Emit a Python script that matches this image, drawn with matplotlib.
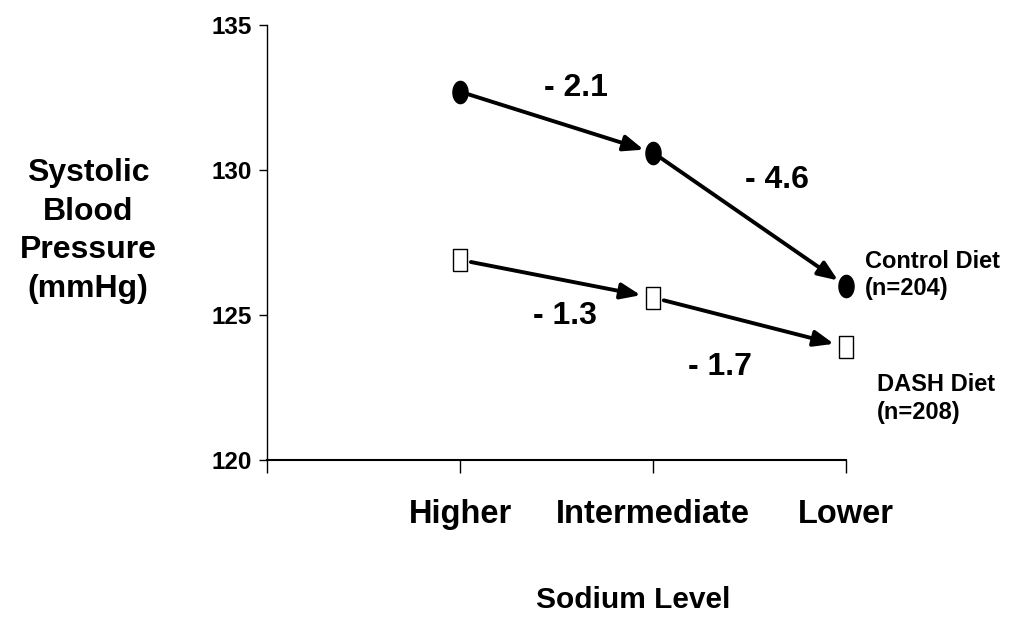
import matplotlib
matplotlib.use("Agg")
import matplotlib.pyplot as plt
import numpy as np

# values
sodium_levels = ["Higher", "Intermediate", "Lower"]
control_sbp = [132.7, 130.6, 126.0]
dash_sbp = [126.9, 125.6, 123.9]
control_changes = ["- 2.1", "- 4.6"]
dash_changes = ["- 1.3", "- 1.7"]
y_ticks = [120, 125, 130, 135]

BOLD = ["Liberation Sans", "DejaVu Sans"]

fig = plt.figure(figsize=(10.23, 6.29), dpi=100)
ax = fig.add_axes([0.261, 0.2687, 0.566, 0.6916])

x = np.arange(1, len(sodium_levels) + 1)

# tall ellipse / tall hollow box markers, as in the slide
t = np.linspace(0, 2 * np.pi, 60)
ellipse = list(zip(0.68 * np.cos(t), np.sin(t)))
box = [(-0.32, -0.5), (0.32, -0.5), (0.32, 0.5), (-0.32, 0.5), (-0.32, -0.5)]

ax.plot(x, control_sbp, linestyle="none", marker=ellipse, markersize=16,
        color="black", zorder=4, clip_on=False)
ax.plot(x, dash_sbp, linestyle="none", marker=box, markersize=16,
        markerfacecolor="white", markeredgecolor="black", markeredgewidth=1,
        zorder=4, clip_on=False)

arrow_kw = dict(arrowstyle="-|>,head_length=1.0,head_width=0.4", lw=2.8,
                color="black", mutation_scale=12)

for i in range(len(x) - 1):
    ax.annotate("", xy=(x[i + 1], control_sbp[i + 1]),
                xytext=(x[i], control_sbp[i]),
                arrowprops=dict(shrinkA=5, shrinkB=7, **arrow_kw), zorder=3)
    ax.annotate("", xy=(x[i + 1], dash_sbp[i + 1]),
                xytext=(x[i], dash_sbp[i]),
                arrowprops=dict(shrinkA=8, shrinkB=9, **arrow_kw), zorder=3)

# change labels next to each segment
control_label_pos = [(1.600, 132.83), (2.642, 129.66)]
dash_label_pos = [(1.544, 124.97), (2.347, 123.21)]
for txt, (lx, ly) in zip(control_changes, control_label_pos):
    ax.text(lx, ly, txt, ha="center", va="center", fontsize=23,
            fontweight="bold", family=BOLD)
for txt, (lx, ly) in zip(dash_changes, dash_label_pos):
    ax.text(lx, ly, txt, ha="center", va="center", fontsize=23,
            fontweight="bold", family=BOLD)

ax.text(3.097, 126.38, "Control Diet\n(n=204)", ha="left", va="center",
        fontsize=17, fontweight="bold", family=BOLD, linespacing=1.2)
ax.text(3.159, 122.12, "DASH Diet\n(n=208)", ha="left", va="center",
        fontsize=17, fontweight="bold", family=BOLD, linespacing=1.25)

ax.set_xlim(0, 3)
ax.set_ylim(120, 135)
ax.set_xticks([0, 1, 2, 3])
ax.set_xticklabels([""] + sodium_levels)
ax.set_yticks(y_ticks)
ax.set_yticklabels([str(v) for v in y_ticks])

for lab in ax.get_xticklabels():
    lab.set_fontsize(23.5)
    lab.set_fontweight("bold")
    lab.set_family(BOLD)
for lab in ax.get_yticklabels():
    lab.set_fontsize(17.5)
    lab.set_fontweight("bold")
    lab.set_family(BOLD)

ax.tick_params(axis="x", direction="out", length=9, width=1, pad=19)
ax.tick_params(axis="y", direction="out", length=6, width=1, pad=5)

for side in ["top", "right"]:
    ax.spines[side].set_visible(False)
ax.spines["left"].set_linewidth(1)
ax.spines["bottom"].set_linewidth(1.5)

fig.text(88 / 1023, 1 - 231 / 629, "Systolic\nBlood\nPressure\n(mmHg)",
         ha="center", va="center", multialignment="center", fontsize=23,
         fontweight="bold", family=BOLD, linespacing=1.38)
fig.text(633 / 1023, 1 - 600 / 629, "Sodium Level", ha="center", va="center",
         fontsize=21.5, fontweight="bold", family=BOLD)

fig.savefig("out.png", dpi=100)
